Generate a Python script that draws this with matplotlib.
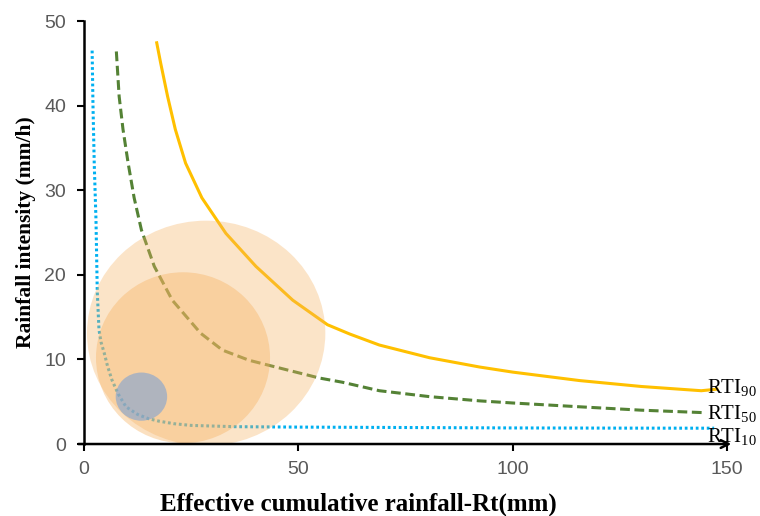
import matplotlib
matplotlib.use('Agg')
import matplotlib.pyplot as plt
from matplotlib.patches import Ellipse

# curvas umbral (x = lluvia acumulada efectiva, y = intensidad)
rti90_x = [16.9, 17.9, 19.5, 21.3, 23.7, 27.5, 33.1, 40.1, 48.7, 56.8, 62, 68.9, 80.6, 92.3, 100, 115.6, 130, 144, 148]
rti90_y = [47.6, 45.0, 41.1, 37.2, 33.2, 29.1, 24.9, 21.0, 17.0, 14.1, 13.0, 11.7, 10.2, 9.1, 8.5, 7.5, 6.8, 6.3, 6.5]

rti50_x = [7.55, 8.2, 9.1, 10.3, 11.7, 13.4, 16.4, 20.6, 27.2, 32.3, 38.5, 45.5, 54.9, 60.3, 68.9, 80.6, 92.3, 100, 115.6, 130, 145]
rti50_y = [46.4, 41.1, 37.2, 33.2, 29.1, 25.3, 21.0, 17.0, 13.1, 11.1, 9.9, 9.0, 7.8, 7.3, 6.3, 5.6, 5.1, 4.85, 4.4, 4.0, 3.7]

rti10_x = [1.9, 2.1, 2.4, 2.8, 3.1, 3.5, 4.0, 4.7, 5.5, 6.5, 8, 9.8, 12.5, 15, 17.5, 21, 25, 35, 50, 75, 100, 125, 147]
rti10_y = [46.5, 40, 33, 26.5, 18, 13.5, 12, 10.8, 9.2, 7.6, 5.9, 4.4, 3.5, 3.0, 2.7, 2.4, 2.2, 2.05, 2.0, 1.95, 1.9, 1.88, 1.87]

# zonas (centro x, centro y, ancho, alto)
zona_grande = (28.5, 13.1, 55.6, 26.6)
zona_media = (23.1, 10.2, 40.6, 20.2)
zona_chica = (13.4, 5.6, 12.0, 5.7)

etiquetas = ['RTI$_{90}$', 'RTI$_{50}$', 'RTI$_{10}$']
etiq_y = [6.0, 3.0, 0.25]

plt.rcParams['mathtext.fontset'] = 'custom'
plt.rcParams['mathtext.rm'] = 'Liberation Serif'
plt.rcParams['mathtext.it'] = 'Liberation Serif:italic'
plt.rcParams['mathtext.bf'] = 'Liberation Serif:bold'

fig = plt.figure(figsize=(7.6, 5.16), dpi=100)
ax = fig.add_axes([0.1105, 0.1395, 0.8461, 0.8198])

ax.plot(rti90_x, rti90_y, color='#FFC000', lw=2.2, solid_capstyle='butt', zorder=2)
ax.plot(rti50_x, rti50_y, color='#548235', lw=2.2, linestyle=(0, (3.2, 1.5)), zorder=2)
ax.plot(rti10_x, rti10_y, color='#00B0F0', lw=2.2, linestyle=(0, (0.9, 0.9)), zorder=2)

def zona(ax, z, color, alpha):
    e = Ellipse((z[0], z[1]), z[2], z[3], facecolor=color, edgecolor='none', alpha=alpha, zorder=3)
    ax.add_patch(e)

zona(ax, zona_grande, '#F6B262', 0.35)
zona(ax, zona_media, '#F6B262', 0.4)
zona(ax, zona_chica, '#7EA2D4', 0.6)

for txt, yy in zip(etiquetas, etiq_y):
    ax.text(145.3, yy, txt, fontsize=15, family='Liberation Serif', va='baseline', ha='left', zorder=5)

ax.set_xlim(0, 150)
ax.set_ylim(0, 50)
ax.set_xticks([0, 50, 100, 150])
ax.set_yticks([0, 10, 20, 30, 40, 50])

for s in ['top', 'right', 'bottom']:
    ax.spines[s].set_visible(False)
ax.spines['left'].set_linewidth(1.8)
ax.annotate('', xy=(151, 0), xytext=(-1.3, 0), xycoords='data',
            arrowprops=dict(arrowstyle='->', lw=1.8, color='black', mutation_scale=14,
                            shrinkA=0, shrinkB=0), annotation_clip=False, zorder=6)

ax.tick_params(axis='both', direction='out', length=5, width=1.5, color='black',
               labelsize=14, labelcolor='#595959')
ax.tick_params(axis='y', pad=8)
ax.tick_params(axis='x', pad=7)
for lab in ax.get_xticklabels() + ax.get_yticklabels():
    lab.set_family('Liberation Sans')

ax.set_ylabel('Rainfall intensity (mm/h)', fontsize=15.5, family='Liberation Serif',
              fontweight='bold', labelpad=5.5)
xl = ax.set_xlabel('Effective cumulative rainfall-Rt(mm)', fontsize=18, family='Liberation Serif',
                   fontweight='bold')
xl.set_verticalalignment('baseline')
ax.xaxis.set_label_coords(0.426, -0.158)

fig.savefig('out.png', dpi=100)
